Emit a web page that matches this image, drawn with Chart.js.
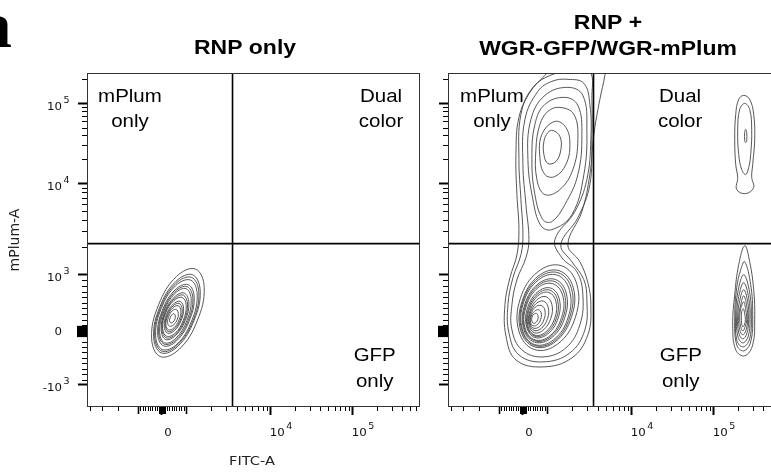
<!DOCTYPE html>
<html>
<head>
<meta charset="utf-8">
<script src="https://cdn.jsdelivr.net/npm/chart.js@4.4.0/dist/chart.umd.min.js"></script>
<style>
html, body { margin: 0; padding: 0; background: #fff; overflow: hidden; }
#wrap { position: relative; width: 771px; height: 475px; overflow: hidden; background: #fff; }
canvas { position: absolute; top: 0; }
#left { left: 0; }
#right { left: 430px; }
</style>
</head>
<body>
<div id="wrap">
  <canvas id="left" width="430" height="475"></canvas>
  <canvas id="right" width="360" height="475"></canvas>
</div>
<script>
// both axes are FlowJo biex display channels, 0-1000
const yMajor = [66, 228, 396, 669, 909];
const yMajorLabels = ['-10^3', '0', '10^3', '10^4', '10^5'];
const xMajor = [225, 552, 798];
const xMajorLabels = ['0', '10^4', '10^5'];
// channel of -10^3, 0, 10^3, 10^4, 10^5
const xDecades = [153, 225, 297, 552, 798];
const yDecades = [66, 228, 396, 669, 909];
const xNegMinor = [93, 45, 9];

// quadrant gate
const gateX = 437;
const gateY = 489;

// contour rings, flat x,y lists in channels
const rnpOnly = [
  [326,413, 352,358, 331,258, 277,173, 220,151, 194,206, 215,306, 269,391],
  [317,396, 340,347, 321,258, 273,182, 223,162, 200,211, 219,300, 267,376],
  [314,388, 336,342, 318,258, 272,186, 225,167, 203,213, 221,298, 267,370],
  [311,380, 331,337, 314,257, 271,189, 226,172, 206,215, 223,295, 266,363],
  [304,366, 322,328, 307,258, 269,198, 230,183, 212,221, 227,291, 265,351],
  [301,360, 318,324, 304,259, 268,202, 232,188, 215,224, 229,289, 265,346],
  [298,354, 313,320, 300,259, 267,206, 233,192, 218,226, 231,287, 264,340],
  [292,341, 306,312, 295,259, 266,214, 236,202, 223,231, 233,284, 262,329],
  [289,335, 302,308, 292,259, 266,218, 238,207, 225,234, 235,283, 262,324],
  [286,328, 298,304, 289,259, 265,221, 239,212, 227,236, 236,281, 261,319],
  [280,316, 290,296, 283,260, 263,229, 242,221, 232,241, 239,278, 259,308],
  [277,310, 286,292, 280,260, 262,233, 244,226, 235,244, 241,276, 259,303],
  [274,303, 282,288, 276,260, 261,237, 245,231, 237,246, 243,274, 258,297],
  [268,292, 274,281, 271,262, 260,246, 248,242, 242,253, 246,272, 256,288],
  [262,279, 265,273, 264,263, 258,254, 251,252, 248,258, 250,268, 256,277]
];

const mixLow = [
  [341,423, 387,367, 383,270, 330,189, 259,172, 213,227, 217,324, 270,405],
  [334,408, 376,358, 371,270, 323,196, 260,180, 218,230, 223,318, 271,392],
  [331,402, 371,354, 366,270, 321,199, 260,184, 221,232, 225,316, 271,386],
  [328,395, 365,349, 361,269, 318,202, 260,187, 223,233, 227,313, 271,380],
  [322,382, 355,341, 351,269, 312,208, 260,194, 227,235, 231,308, 270,368],
  [319,376, 350,337, 346,269, 309,211, 261,198, 229,237, 233,305, 270,363],
  [315,369, 345,332, 341,268, 306,213, 261,201, 231,238, 235,302, 270,357],
  [309,356, 334,324, 331,267, 300,219, 261,208, 236,240, 239,297, 270,345],
  [306,350, 329,320, 326,267, 297,222, 261,212, 238,241, 242,295, 270,339],
  [303,343, 324,316, 321,267, 294,225, 261,215, 240,242, 244,292, 270,333],
  [295,330, 312,307, 309,266, 287,231, 260,222, 243,245, 246,286, 268,322],
  [287,317, 301,298, 299,265, 281,236, 259,229, 245,248, 247,281, 265,310],
  [280,304, 291,290, 289,264, 275,241, 257,236, 247,250, 249,277, 262,299],
  [272,291, 280,281, 278,262, 269,247, 256,243, 248,253, 250,272, 260,287],
  [266,280, 270,274, 270,263, 264,253, 256,251, 252,257, 252,268, 258,278]
];

const mixPlum = [
  [360,957, 405,933, 417,831, 408,696, 372,576, 312,531, 279,543, 255,621, 240,741, 249,861, 291,933],
  [351,927, 390,903, 402,816, 390,696, 351,606, 312,555, 285,561, 261,636, 252,741, 261,846, 291,906],
  [336,897, 378,876, 390,801, 375,711, 336,651, 291,636, 267,681, 264,771, 276,846, 300,885],
  [321,855, 354,837, 366,786, 354,726, 321,690, 291,696, 276,747, 282,816],
  [315,828, 336,810, 339,771, 324,735, 300,729, 288,756, 288,795, 300,822]
];

const mixBridge = [
  [360,981, 408,969, 426,906, 429,801, 417,681, 381,585, 321,501, 342,447, 387,405, 405,336, 396,246, 354,177,
   285,150, 222,171, 192,231, 192,306, 207,381, 234,447, 243,501, 234,606, 225,726, 231,861, 270,945, 312,975],
  [372,1005, 426,1005, 432,921, 432,801, 426,666, 390,567, 339,486, 372,435, 408,381, 417,321, 411,231, 366,162,
   285,135, 213,156, 183,222, 180,306, 195,387, 219,456, 225,516, 219,621, 213,741, 219,876, 255,957, 315,996],
  [336,1041, 474,1041, 471,993, 456,921, 438,816, 426,696, 402,585, 360,486, 396,435, 420,372, 429,306, 420,216,
   372,147, 285,120, 204,141, 174,213, 171,306, 186,387, 207,456, 213,531, 207,636, 204,756, 213,867, 246,942, 291,993]
];

const mixGfp = [
  [891,483, 906,435, 918,351, 921,261, 915,186, 891,153, 864,171, 855,246, 861,336, 873,426],
  [891,435, 909,366, 915,276, 909,195, 888,168, 867,186, 861,267, 867,357, 879,411],
  [888,396, 906,342, 911,267, 905,201, 885,180, 867,201, 864,273, 870,342],
  [888,372, 903,327, 907,261, 901,210, 885,192, 870,213, 867,270, 873,330],
  [888,351, 900,315, 903,261, 897,219, 885,204, 873,222, 870,270, 876,318],
  [888,333, 897,303, 900,261, 894,228, 885,216, 876,231, 873,270, 879,306],
  [888,315, 894,291, 897,261, 891,237, 885,228, 879,240, 876,267, 879,294],
  [887,294, 891,279, 893,261, 890,246, 885,240, 882,249, 881,267, 882,285]
];

const mixDual = [
  [888,933, 906,921, 918,876, 921,801, 915,726, 912,687, 918,657, 894,639, 867,651, 870,687, 864,726, 861,801, 864,876, 873,921],
  [891,909, 906,891, 912,831, 909,756, 903,717, 894,696, 882,711, 873,756, 870,831, 876,891],
  [894,831, 897,822, 897,798, 894,792, 891,798, 891,822]
];

function toPts(flat) {
  const p = [];
  for (let i = 0; i < flat.length; i += 2) p.push({ x: flat[i], y: flat[i + 1] });
  return p;
}

// minor ticks: linear part around zero, log decades above 10^3
function minorTicks(dec) {
  const neg = dec[0], zero = dec[1], pos = dec[2];
  const lin = [], dense = [], log = [];
  for (let i = 1; i < 10; i++) {
    lin.push(zero + (pos - zero) * i / 10, zero - (zero - neg) * i / 10);
    dense.push(zero + (pos - zero) * i / 100, zero - (zero - neg) * i / 100);
  }
  const ups = dec.slice(2);
  ups.push(ups[ups.length - 1] * 2 - ups[ups.length - 2]);
  for (let d = 0; d < ups.length - 1; d++) {
    for (let k = 2; k < 10; k++) log.push(ups[d] + Math.log10(k) * (ups[d + 1] - ups[d]));
  }
  return { lin, dense, log: log.filter(v => v <= 1000) };
}

const SX = 1.12; // the figure is a little wider than tall

function stretch(ctx, text, x, y, font, align) {
  ctx.save();
  ctx.translate(x, y);
  ctx.scale(SX, 1);
  ctx.font = font;
  ctx.textAlign = align || 'center';
  ctx.textBaseline = 'alphabetic';
  ctx.fillText(text, 0, 0);
  ctx.restore();
}

const BASE_FONT = '10.5px "DejaVu Sans", sans-serif';
const EXP_FONT = '8.5px "DejaVu Sans", sans-serif';

function splitPow(ctx, label) {
  const parts = label.split('^');
  ctx.font = BASE_FONT;
  const wb = ctx.measureText(parts[0]).width * SX;
  let we = 0;
  if (parts[1]) { ctx.font = EXP_FONT; we = ctx.measureText(parts[1]).width * SX; }
  return { base: parts[0], exp: parts[1], wb, we };
}

// base text starting at x, exponent raised after it
function powLabel(ctx, p, x, y) {
  stretch(ctx, p.base, x, y, BASE_FONT, 'left');
  if (p.exp) stretch(ctx, p.exp, x + p.wb + 1.5, y - 7, EXP_FONT, 'left');
}

// close every contour ring (same trick the radar chart uses)
const closeRings = {
  id: 'closeRings',
  afterDatasetsUpdate(chart) {
    chart.getSortedVisibleDatasetMetas().forEach(m => {
      if (m.dataset) { m.dataset._loop = true; m.dataset._fullLoop = true; }
    });
  }
};

const gates = {
  id: 'gates',
  afterDatasetsDraw(chart) {
    const { ctx, chartArea: a, scales: { x, y } } = chart;
    ctx.save();
    ctx.strokeStyle = '#000';
    ctx.lineWidth = 1.6;
    const gx = x.getPixelForValue(gateX), gy = y.getPixelForValue(gateY);
    ctx.beginPath();
    ctx.moveTo(gx, a.top); ctx.lineTo(gx, a.bottom);
    ctx.moveTo(a.left, gy); ctx.lineTo(a.right, gy);
    ctx.stroke();
    ctx.strokeStyle = '#333';
    ctx.lineWidth = 1;
    ctx.strokeRect(Math.round(a.left) + 0.5, Math.round(a.top) + 0.5, Math.round(a.right - a.left) - 1, Math.round(a.bottom - a.top) - 1);
    ctx.restore();
  }
};

const flowAxes = {
  id: 'flowAxes',
  afterDraw(chart, args, o) {
    const { ctx, chartArea: a, scales: { x, y } } = chart;
    const mx = minorTicks(xDecades), my = minorTicks(yDecades);
    ctx.save();
    ctx.strokeStyle = '#000';
    const xt = (v, len, w) => {
      const p = Math.round(x.getPixelForValue(v)) + 0.5;
      ctx.lineWidth = w; ctx.beginPath(); ctx.moveTo(p, a.bottom); ctx.lineTo(p, a.bottom + len); ctx.stroke();
    };
    const yt = (v, len, w) => {
      const p = Math.round(y.getPixelForValue(v)) + 0.5;
      ctx.lineWidth = w; ctx.beginPath(); ctx.moveTo(a.left, p); ctx.lineTo(a.left - len, p); ctx.stroke();
    };
    mx.log.concat(mx.lin, xNegMinor).forEach(v => xt(v, 4, 1));
    mx.dense.forEach(v => xt(v, 7, 3));
    [xDecades[0], xDecades[2]].forEach(v => xt(v, 7, 1.6));
    my.log.concat(my.lin).forEach(v => yt(v, 5, 1));
    my.dense.forEach(v => yt(v, 10, 1.2));

    // tick labels with raised exponents
    ctx.fillStyle = '#111';
    xMajor.forEach((v, i) => {
      const p = splitPow(ctx, xMajorLabels[i]);
      const px = x.getPixelForValue(v);
      const left = p.exp ? px - 1 : px + 6 - p.wb / 2;
      powLabel(ctx, p, left, a.bottom + 28.5);
    });
    if (o.yLabels) {
      yMajor.forEach((v, i) => {
        const p = splitPow(ctx, yMajorLabels[i]);
        const py = y.getPixelForValue(v);
        const base = p.exp ? py + 6.5 : py + 4;
        powLabel(ctx, p, a.left - 25 - p.wb, base);
      });
    }
    ctx.restore();
  }
};

const flowText = {
  id: 'flowText',
  afterDraw(chart, args, o) {
    const { ctx, scales: { x, y } } = chart;
    ctx.save();
    ctx.fillStyle = '#000';
    (o.quadrants || []).forEach(q =>
      stretch(ctx, q[0], x.getPixelForValue(q[1]), y.getPixelForValue(q[2]), '18.3px "Liberation Sans", Arial, sans-serif'));
    (o.titles || []).forEach(t =>
      stretch(ctx, t[0], t[1], t[2], 'bold 20.5px "Liberation Sans", Arial, sans-serif'));
    if (o.panelLetter) {
      stretch(ctx, 'a', -25, 47, 'bold 66px "Liberation Serif", serif', 'left');
    }
    if (o.axisTitles) {
      ctx.fillStyle = '#222';
      stretch(ctx, 'FITC-A', 252, 465, '13px "DejaVu Sans", sans-serif');
      ctx.save();
      ctx.translate(15, 240);
      ctx.rotate(-Math.PI / 2);
      ctx.font = '14px "DejaVu Sans", sans-serif';
      ctx.textAlign = 'center';
      ctx.textBaseline = 'middle';
      ctx.fillText('mPlum-A', 0, 0);
      ctx.restore();
    }
    ctx.restore();
  }
};

function ringSets(groups) {
  const out = [];
  groups.forEach(g => g.forEach(r => out.push({
    data: toPts(r),
    borderColor: '#444',
    borderWidth: 0.9,
    tension: 0.4,
    pointRadius: 0,
    fill: false
  })));
  return out;
}

function makePanel(id, groups, pad, yWidth, showYLabels, text) {
  return new Chart(document.getElementById(id), {
    type: 'line',
    data: { datasets: ringSets(groups) },
    options: {
      responsive: false,
      animation: false,
      devicePixelRatio: 1,
      events: [],
      layout: { padding: pad },
      plugins: {
        legend: { display: false },
        tooltip: { enabled: false },
        title: { display: false },
        flowText: text,
        flowAxes: { yLabels: showYLabels }
      },
      scales: {
        x: {
          type: 'linear', min: 0, max: 1000,
          afterBuildTicks: s => { s.ticks = xMajor.map(v => ({ value: v })); },
          afterFit: s => { s.height = 34; },
          ticks: { display: false, autoSkip: false, maxRotation: 0 },
          grid: { drawOnChartArea: false, drawTicks: true, tickLength: 8, tickWidth: 2, tickColor: '#000' },
          border: { display: false }
        },
        y: {
          type: 'linear', min: 0, max: 1000,
          afterBuildTicks: s => { s.ticks = yMajor.map(v => ({ value: v })); },
          afterFit: s => { s.width = yWidth; },
          ticks: { display: false, autoSkip: false },
          grid: { drawOnChartArea: false, drawTicks: true, tickLength: 9, tickWidth: 2, tickColor: '#000' },
          border: { display: false }
        }
      }
    },
    plugins: [closeRings, gates, flowAxes, flowText]
  });
}

makePanel('left', [rnpOnly], { left: 47, right: 10, top: 73, bottom: 34 }, 40, true, {
  panelLetter: true,
  axisTitles: true,
  titles: [['RNP only', 245, 54]],
  quadrants: [['mPlum', 129, 912], ['only', 129, 837], ['Dual', 883, 912], ['color', 883, 837], ['GFP', 864, 138], ['only', 864, 60]]
});

makePanel('right', [mixBridge, mixPlum, mixLow, mixGfp, mixDual], { left: 8, right: 9, top: 73, bottom: 34 }, 10, false, {
  titles: [['RNP +', 178, 29], ['WGR-GFP/WGR-mPlum', 178, 54.5]],
  quadrants: [['mPlum', 132, 912], ['only', 132, 837], ['Dual', 697, 912], ['color', 697, 837], ['GFP', 699, 138], ['only', 699, 60]]
});
</script>
</body>
</html>
